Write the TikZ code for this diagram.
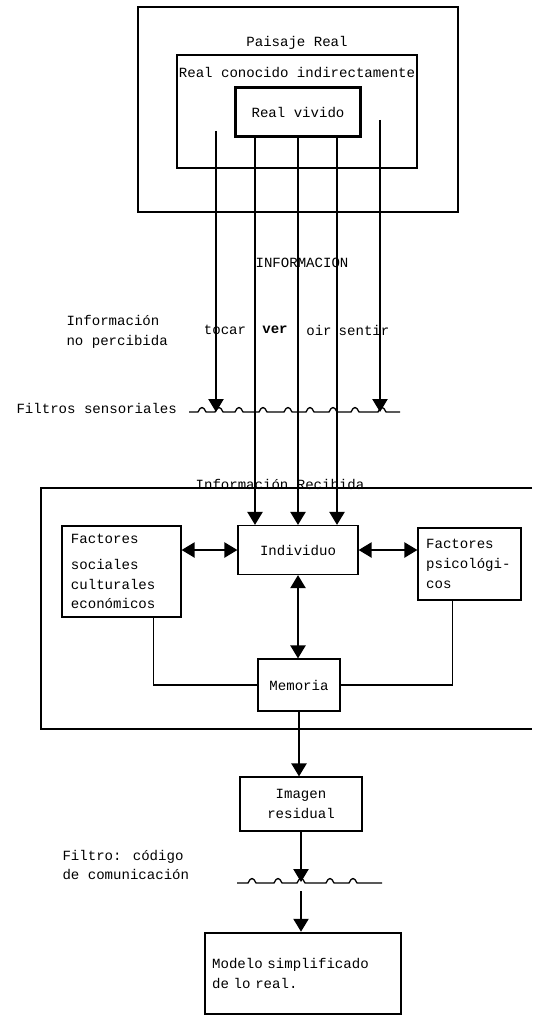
\documentclass[tikz,border=0pt]{standalone}
\usepackage{fontspec}
\setmainfont{Liberation Mono}
\usetikzlibrary{arrows.meta}

\tikzset{
  caja/.style={draw,line width=1.1pt,inner sep=2pt},
  gruesa/.style={caja,line width=2.2pt},
  flecha/.style={-{Triangle[width=13pt,length=11pt]}},
  doble/.style={{Triangle[width=13pt,length=11pt]}-{Triangle[width=13pt,length=11pt]}},
}

\begin{document}
\begin{tikzpicture}[x=0.03cm,y=-0.03cm,line width=1.1pt,
    font=\fontsize{12}{17}\selectfont]
  \useasboundingbox (0,0) rectangle (532,1017);
  % marcos
  \draw (138,7) rectangle (458,212);
  \draw (177,55) rectangle (417,168);
  \draw (532,488) -- (41,488) -- (41,729) -- (532,729);

  % textos sueltos
  \draw
    (297,43) node (paisaje){Paisaje Real}
    (297,72) node (conocido){Real conocido indirectamente}
    (302,263) node (info){INFORMACION}
    (62,332) node[anchor=west,align=left] (noperc){Información\\no percibida}
    (225,330) node (tocar){tocar}
    (275,330) node (ver){\bfseries ver}
    (319,330) node (oir){oir}
    (364,330) node (sentir){sentir}
    (12,408) node[anchor=west] (filtros){Filtros sensoriales}
    (280,484) node (recibida){Información Recibida}
    (58,865) node[anchor=west,align=left] (codigo){Filtro: código\\de comunicación};

  % cajas
  \draw
    (298,112) node[gruesa,minimum width=3.75cm,minimum height=1.47cm] (vivido){Real vivido}
    (298,550) node[caja,minimum width=3.6cm,minimum height=1.47cm] (indiv){Individuo}
    (121.5,571.5) node[caja,minimum width=3.57cm,minimum height=2.73cm,
        text width=3.03cm,align=left] (sociales){Factores\\[5pt]sociales\\culturales\\económicos}
    (469.5,564) node[caja,minimum width=3.09cm,minimum height=2.16cm,
        text width=2.6cm,align=left] (psico){Factores\\psicológi-\\cos}
    (299,685) node[caja,minimum width=2.46cm,minimum height=1.56cm] (memoria){Memoria}
    (301,804) node[caja,minimum width=3.66cm,minimum height=1.62cm,align=center] (imagen){Imagen\\residual}
    (303,973.5) node[gruesa,minimum width=5.88cm,minimum height=2.43cm,
        text width=5.45cm,align=left] (modelo){Modelo simplificado\\de lo real.};

  % filtros
  \draw (189,412) \foreach \b in {202,219,239,263,288,310,333,355,382}
    { -- (\b-4,412) .. controls (\b-1.5,406) and (\b+1.5,406) .. (\b+4,412) } -- (400,412);
  \draw (237,883) \foreach \b in {252,278,301,330,353}
    { -- (\b-4,883) .. controls (\b-1.5,877) and (\b+1.5,877) .. (\b+4,883) } -- (382,883);

  \coordinate (tocarA) at (216,131);
  \coordinate (tocarB) at (216,412);
  \coordinate (sentirA) at (380,120);
  \coordinate (sentirB) at (380,412);
  \coordinate (f2a) at (301,882);
  \coordinate (f2b) at (301,891);

  \begin{scope}[flecha]
    \draw (tocarA) to (tocarB);
    \draw (sentirA) to (sentirB);
    \foreach \d in {-1.29,0,1.17}
      \draw ([xshift=\d cm]vivido.south) to ([xshift=\d cm]indiv.north);
    \draw (memoria.south) to (memoria.south |- imagen.north);
    \draw (imagen.south) to (f2a);
    \draw (f2b) to (f2b |- modelo.north);
  \end{scope}
  \begin{scope}[doble]
    \draw (indiv.west) to (indiv.west -| sociales.east);
    \draw (indiv.east) to (indiv.east -| psico.west);
    \draw (indiv.south) to (indiv.south |- memoria.north);
  \end{scope}
  \draw ([xshift=0.97cm]sociales.south) |- (memoria.west);
  \draw ([xshift=-0.5cm]psico.south) |- (memoria.east);
\end{tikzpicture}
\end{document}
